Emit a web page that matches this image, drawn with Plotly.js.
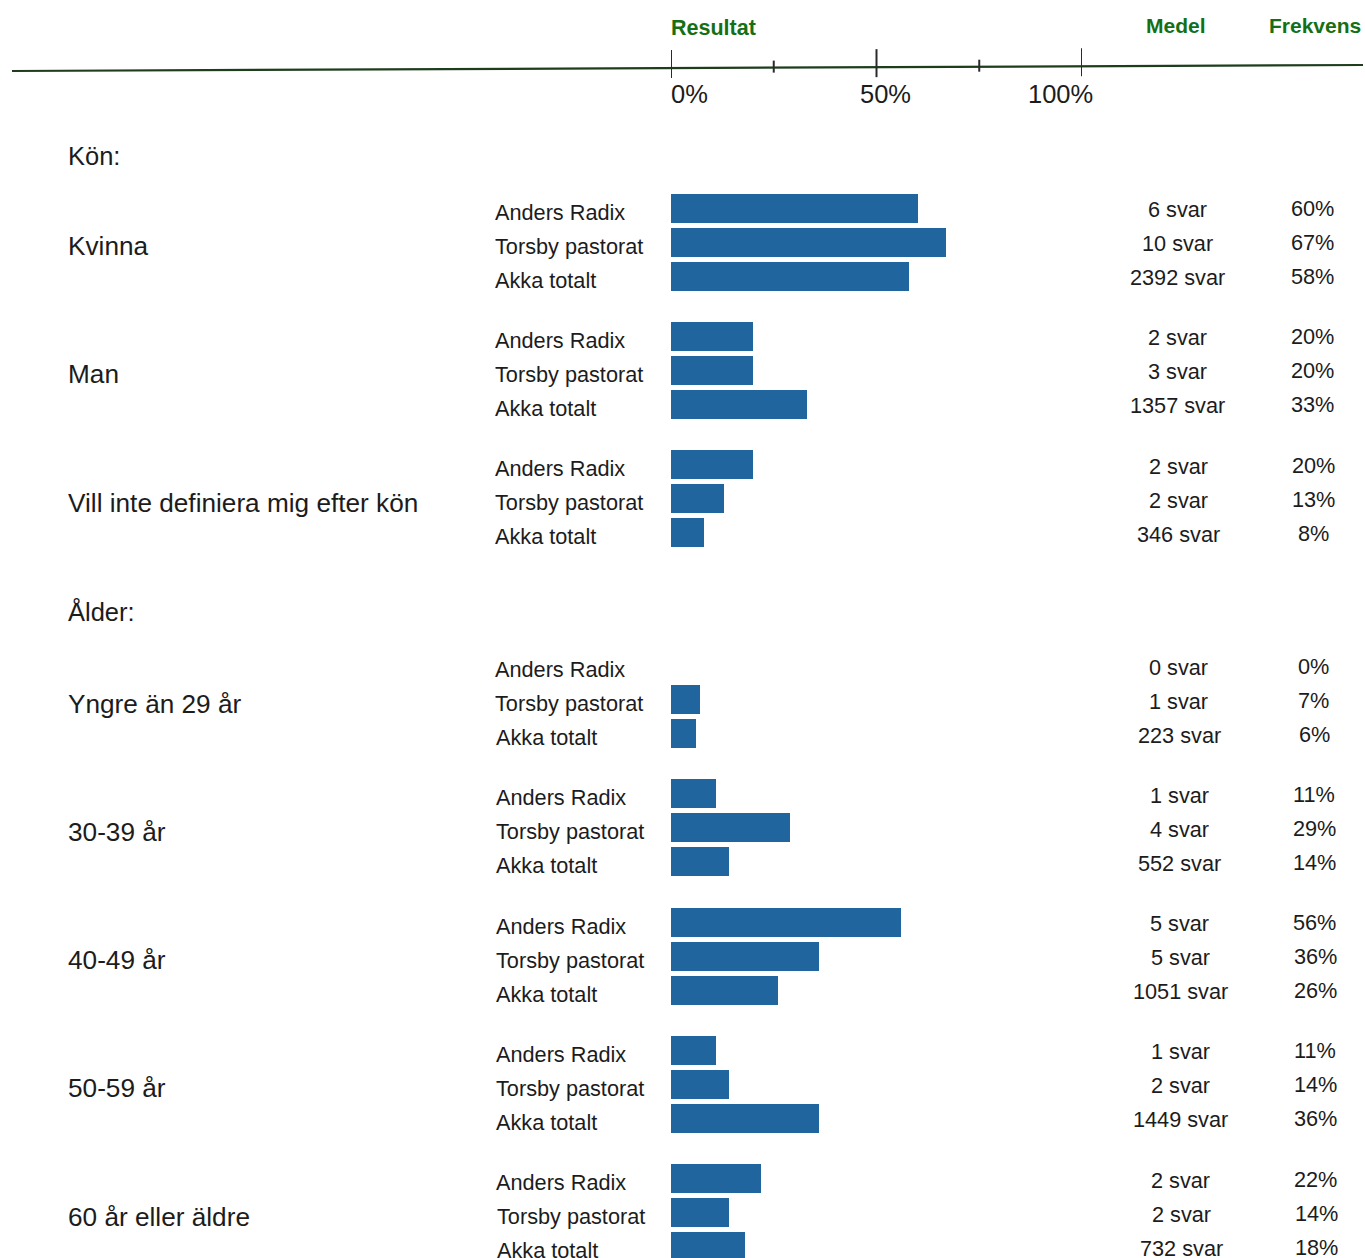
<!DOCTYPE html>
<html>
<head>
<meta charset="utf-8">
<script src="https://cdn.plot.ly/plotly-3.0.1.min.js"></script>
<style>html,body{margin:0;padding:0;background:#fff;}#chart{width:1365px;height:1258px;}</style>
</head>
<body>
<div id="chart"></div>
<script>
// ---------- DATA ----------
const sections = ['Kön:', 'Ålder:'];
const groups = ['Kvinna', 'Man', 'Vill inte definiera mig efter kön',
  'Yngre än 29 år', '30-39 år', '40-49 år', '50-59 år', '60 år eller äldre'];
const groupSection = [0, 0, 0, 1, 1, 1, 1, 1];
const seriesNames = ['Anders Radix', 'Torsby pastorat', 'Akka totalt'];
// Frekvens (%)
const andersRadix = [60, 20, 20, 0, 11, 56, 11, 22];
const torsby      = [67, 20, 13, 7, 29, 36, 14, 14];
const akka        = [58, 33, 8, 6, 14, 26, 36, 18];
// Medel (antal svar)
const andersSvar = [6, 2, 2, 0, 1, 5, 1, 2];
const torsbySvar = [10, 3, 2, 1, 4, 5, 2, 2];
const akkaSvar   = [2392, 1357, 346, 223, 552, 1051, 1449, 732];
const headers = ['Resultat', 'Medel', 'Frekvens'];
const tickVals = [0, 25, 50, 75, 100];
const tickLabels = ['0%', '', '50%', '', '100%'];

// ---------- LAYOUT GEOMETRY ----------
const W = 1365, H = 1258;
const FONT = 'Liberation Sans, Arial, sans-serif';
const TXT = '#1c1c1c';
const GREEN = '#157015';
const BLUE = '#21659f';
const sectionStart = [208, 665.5];
const groupStep = 128.3;
const rowStep = 34;
const sectionHeaderY = [156, 611];

const values = [andersRadix, torsby, akka];
const svar = [andersSvar, torsbySvar, akkaSvar];

function groupIndexInSection(g) {
  let n = 0;
  for (let i = 0; i < g; i++) if (groupSection[i] === groupSection[g]) n++;
  return n;
}
function rowY(g, r) {
  return sectionStart[groupSection[g]] + groupIndexInSection(g) * groupStep + r * rowStep;
}
const px = x => x / W;

// ---------- TRACES ----------
const bx = [], by = [];
for (let g = 0; g < groups.length; g++) {
  for (let r = 0; r < 3; r++) {
    bx.push(values[r][g]);
    by.push(rowY(g, r));
  }
}
const traces = [{
  type: 'bar', orientation: 'h', x: bx, y: by, width: 29,
  marker: {color: BLUE, line: {width: 0}},
  hoverinfo: 'x', showlegend: false
}];

// ---------- ANNOTATIONS ----------
const ann = [];
function addText(text, x, y, size, opts) {
  ann.push(Object.assign({
    text: text, x: px(x), y: y, xref: 'paper', yref: 'y',
    showarrow: false, xanchor: 'left', yanchor: 'middle',
    font: {family: FONT, size: size, color: TXT}
  }, opts || {}));
}
// headers
addText('<b>' + headers[0] + '</b>', 669, 28, 21.5, {font: {family: FONT, size: 21.5, color: GREEN}});
addText('<b>' + headers[1] + '</b>', 1176, 25, 21, {xanchor: 'center', font: {family: FONT, size: 21, color: GREEN}});
addText('<b>' + headers[2] + '</b>', 1363, 25, 21, {xanchor: 'right', font: {family: FONT, size: 21, color: GREEN}});
// axis tick labels
const tickLabelX = [669, null, 885, null, 1060];
const tickLabelAnchor = ['left', null, 'center', null, 'center'];
tickVals.forEach((v, i) => {
  if (tickLabels[i]) addText(tickLabels[i], tickLabelX[i], 94, 25.5, {xanchor: tickLabelAnchor[i]});
});
// section headers
sections.forEach((s, i) => addText(s, 66, sectionHeaderY[i], 25.5));
// groups
for (let g = 0; g < groups.length; g++) {
  addText(groups[g], 66, rowY(g, 1) + 4, 26.2);
  for (let r = 0; r < 3; r++) {
    const y = rowY(g, r);
    const drift = (y - 200) * 0.002;
    addText(seriesNames[r], 492.5 + drift, y + 4, 21.7);
    addText(svar[r][g] + ' svar', 1177 + drift * 2, y + 1.5, 21.7, {xanchor: 'center'});
    addText(values[r][g] + '%', 1312 + drift * 2, y + 0.5, 21.7, {xanchor: 'center'});
  }
}

// ---------- SHAPES (axis line + ticks) ----------
const shapes = [{
  type: 'line', xref: 'paper', yref: 'y', x0: px(12), x1: px(1363), y0: 71, y1: 65,
  line: {color: '#1d3d1d', width: 2.2}
}];
tickVals.forEach((v, i) => {
  const major = tickLabels[i] !== '';
  const x = 671 + v * 4.11;
  const yl = 71 - 6 * (x - 12) / 1351;
  shapes.push({
    type: 'line', xref: 'x', yref: 'y', x0: v, x1: v,
    y0: major ? yl - 18 : yl - 7, y1: major ? yl + 10 : yl + 5,
    line: {color: '#2a2a2a', width: 2}
  });
});

const layout = {
  width: W, height: H,
  margin: {l: 0, r: 0, t: 0, b: 0},
  paper_bgcolor: '#ffffff', plot_bgcolor: 'rgba(0,0,0,0)',
  xaxis: {domain: [671 / W, 1082 / W], range: [0, 100], visible: false, fixedrange: true},
  yaxis: {domain: [0, 1], range: [H, 0], visible: false, fixedrange: true},
  bargap: 0,
  annotations: ann,
  shapes: shapes,
  showlegend: false
};
Plotly.newPlot('chart', traces, layout, {displayModeBar: false, staticPlot: true});
</script>
</body>
</html>
